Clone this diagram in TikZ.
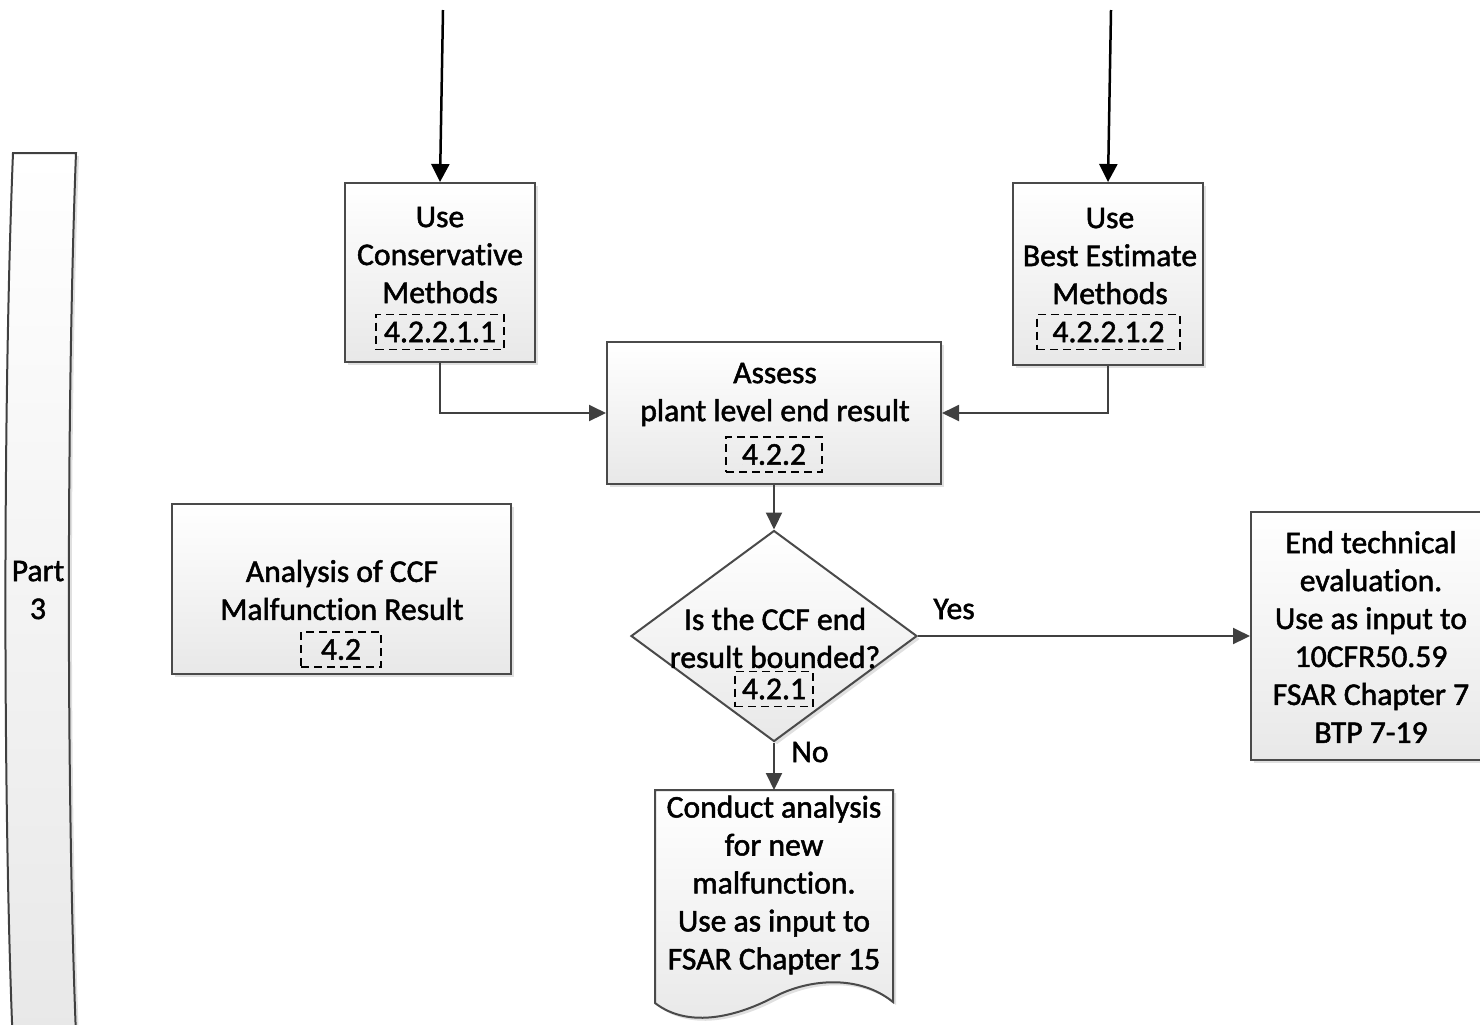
\documentclass[tikz,border=0pt]{standalone}
\usepackage{fontspec}
\setmainfont{Carlito}[Ligatures={NoCommon}, FakeBold=1.6]
\usetikzlibrary{arrows.meta,shapes.geometric,shadows}

\definecolor{edgegray}{HTML}{4A4A4A}
\definecolor{linegray}{HTML}{404040}

\tikzset{
	procbox/.style={draw=edgegray, line width=0.04cm, top color=white, bottom color=black!9, inner sep=0pt,
		drop shadow={shadow xshift=0.06cm, shadow yshift=-0.06cm, fill=black!12, opacity=1}},
	boxtext/.style={align=center, font=\fontsize{18}{21.6}\selectfont, inner sep=0pt},
	refbox/.style={draw=black, dash pattern=on 0.16cm off 0.1cm, line width=0.03cm,
		font=\fontsize{18}{21.6}\selectfont, minimum height=0.7cm, inner sep=0pt},
	flow/.style={draw=linegray, line width=0.04cm, -{Triangle[length=0.34cm,width=0.32cm]}},
	feed/.style={draw=black, line width=0.05cm, -{Triangle[length=0.36cm,width=0.36cm]}},
}

\begin{document}
\begin{tikzpicture}
			%%%%% START %%%%%
			\useasboundingbox (0, 0) rectangle (29.6, -20.48);
			
			% part bar
			\draw[procbox, draw=linegray] (0.26, -3.06) -- (1.52, -3.06) .. controls (1.33, -8) and (1.33, -16) .. (1.52, -20.7)
				-- (0.25, -20.7) .. controls (0.06, -16) and (0.06, -8) .. (0.26, -3.06) -- cycle;
			\node[boxtext] (part) at (0.76, -11.8) {Part\\3};
			
			% incoming feeds
			\coordinate (cons-in) at (8.86, -0.2);
			\coordinate (best-in) at (22.22, -0.2);
			
			\node[procbox, minimum width=3.8cm, minimum height=3.58cm] (cons) at (8.8, -5.45) {};
			\node[boxtext] (cons-txt) at (8.8, -5.1) {Use\\Conservative\\Methods};
			\node[refbox, minimum width=2.56cm] (cons-ref) at (8.8, -6.64) {4.2.2.1.1};
			
			\node[procbox, minimum width=3.8cm, minimum height=3.64cm] (best) at (22.16, -5.48) {};
			\node[boxtext] (best-txt) at (22.2, -5.12) {Use\\Best Estimate\\Methods};
			\node[refbox, minimum width=2.86cm] (best-ref) at (22.17, -6.64) {4.2.2.1.2};
			
			\node[procbox, minimum width=6.68cm, minimum height=2.84cm] (assess) at (15.48, -8.26) {};
			\node[boxtext] (assess-txt) at (15.5, -7.89) {Assess\\plant level end result};
			\node[refbox, minimum width=1.92cm] (assess-ref) at (15.48, -9.09) {4.2.2};
			
			\node[procbox, minimum width=6.78cm, minimum height=3.4cm] (ccf) at (6.83, -11.78) {};
			\node[boxtext] (ccf-txt) at (6.84, -11.8) {Analysis of CCF\\Malfunction Result};
			\node[refbox, minimum width=1.6cm] (ccf-ref) at (6.82, -12.99) {4.2};
			
			\node[procbox, diamond, minimum width=5.72cm, minimum height=4.22cm] (bound) at (15.48, -12.72) {};
			\node[boxtext] (bound-txt) at (15.5, -12.76) {Is the CCF end\\result bounded?};
			\node[refbox, minimum width=1.56cm] (bound-ref) at (15.48, -13.78) {4.2.1};
			
			\node[procbox, minimum width=4.8cm, minimum height=4.96cm] (done) at (27.42, -12.72) {};
			\node[boxtext] (done-txt) at (27.42, -12.74) {End technical\\evaluation.\\Use as input to\\10CFR50.59\\FSAR Chapter 7\\BTP 7-19};
			
			% document shape
			\draw[procbox] (13.1, -15.8) -- (17.86, -15.8) -- (17.86, -20.04)
				.. controls (17.2, -19.5) and (16.2, -19.56) .. (15.48, -19.94)
				.. controls (14.8, -20.3) and (13.8, -20.6) .. (13.1, -20.06) -- cycle;
			\coordinate (doc-top) at (15.48, -15.8);
			\node[boxtext] (doc) at (15.48, -17.7) {Conduct analysis\\for new\\malfunction.\\Use as input to\\FSAR Chapter 15};
			
			% connectors
			\draw[feed] (cons-in) -- (cons.north);
			\draw[feed] (best-in) -- (best.north);
			\draw[flow] (cons.south) |- (assess.west);
			\draw[flow] (best.south) |- (assess.east);
			\draw[flow] (assess.south) -- (bound.north);
			\draw[flow] (bound.east) -- (done.west);
			\draw[flow] (bound.south) -- (doc-top);
			
			\node[boxtext] (yes) at (19.08, -12.18) {Yes};
			\node[boxtext] (no) at (16.2, -15.04) {No};
			
			%%%%% END %%%%%
\end{tikzpicture}
\end{document}
